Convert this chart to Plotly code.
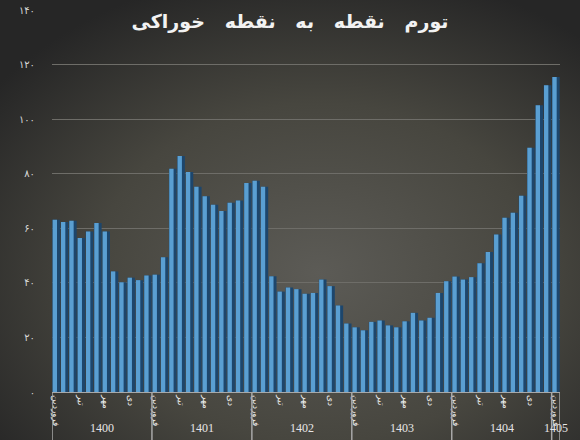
import base64

import plotly.graph_objects as go

# point-to-point food inflation (%), monthly, Farvardin 1400 .. Farvardin 1405
years = ["1400", "1401", "1402", "1403", "1404", "1405"]
months_per_year = [12, 12, 12, 12, 12, 1]
month_names = ["فروردین", "", "", "تیر", "", "", "مهر", "", "", "دی", "", ""]

values = [
    63.1, 62.3, 62.8, 56.4, 58.8, 61.9, 58.8, 44.2, 40.2, 41.9, 41.0, 42.7,
    43.0, 49.4, 81.8, 86.5, 80.6, 75.2, 71.7, 68.6, 66.3, 69.4, 70.2, 76.6,
    77.4, 75.2, 42.4, 36.8, 38.3, 37.7, 36.0, 36.3, 41.2, 38.8, 31.7, 25.1,
    23.7, 22.6, 25.7, 26.2, 24.4, 23.7, 25.9, 29.0, 26.2, 27.2, 36.3, 40.6,
    42.3, 41.2, 42.1, 47.2, 51.3, 57.7, 63.9, 65.7, 71.9, 89.5, 105.1, 112.4,
    115.4,
]

y_ticks = [0, 20, 40, 60, 80, 100, 120, 140]
y_ticktext = ["۰", "۲۰", "۴۰", "۶۰", "۸۰", "۱۰۰", "۱۲۰", "۱۴۰"]

TITLE = "تورم   نقطه   به   نقطه   خوراکی"

W, H = 580, 440
M_L, M_R, M_T, M_B = 52, 20, 10, 48
AXIS_GREY = "#a8a8a8"

# one category per month, e.g. "1400/01"
months, tick_vals, tick_text = [], [], []
for year, n in zip(years, months_per_year):
    for i in range(n):
        key = f"{year}/{i + 1:02d}"
        months.append(key)
        if month_names[i]:
            tick_vals.append(key)
            tick_text.append(month_names[i])

fig = go.Figure()
# dark shaded body of each column
fig.add_trace(go.Bar(
    x=months, y=values,
    marker=dict(color="#1d466c", line=dict(width=0)),
    width=0.92, hoverinfo="skip",
))
# lighter face on the left part of the column
fig.add_trace(go.Bar(
    x=months, y=values,
    marker=dict(color="#5a9fd2", line=dict(width=0)),
    width=0.52, offset=-0.42,
))

# radial gradient backdrop, drawn as an inline svg image
pw, ph = W - M_L - M_R, H - M_T - M_B
svg = (
    f'<svg xmlns="http://www.w3.org/2000/svg" width="{W}" height="{H}">'
    '<defs><radialGradient id="g" cx="55%" cy="62%" r="70%">'
    '<stop offset="0" stop-color="#5c5b56"/>'
    '<stop offset="0.55" stop-color="#47463f"/>'
    '<stop offset="1" stop-color="#262626"/>'
    '</radialGradient></defs>'
    f'<rect width="{W}" height="{H}" fill="url(#g)"/></svg>'
)
src = "data:image/svg+xml;base64," + base64.b64encode(svg.encode()).decode()
fig.add_layout_image(
    source=src, xref="paper", yref="paper",
    x=-M_L / pw, y=1 + M_T / ph, sizex=W / pw, sizey=H / ph,
    xanchor="left", yanchor="top", sizing="stretch", layer="below",
)

# year group dividers and labels under the month ticks
bottom = -M_B / ph
start = 0
for year, n in zip(years, months_per_year):
    fig.add_shape(
        type="line", xref="x", yref="paper",
        x0=start - 0.5, x1=start - 0.5, y0=0, y1=bottom,
        line=dict(color=AXIS_GREY, width=1.5),
    )
    fig.add_annotation(
        x=start + (n - 1) / 2, y=-36 / ph, xref="x", yref="paper",
        text=year, showarrow=False, yanchor="middle",
        font=dict(family="Liberation Serif", size=12, color="#e6e6e6"),
    )
    start += n
fig.add_shape(
    type="line", xref="x", yref="paper",
    x0=start - 0.5, x1=start - 0.5, y0=0, y1=bottom,
    line=dict(color=AXIS_GREY, width=1.5),
)

fig.update_layout(
    width=W, height=H,
    margin=dict(l=M_L, r=M_R, t=M_T, b=M_B),
    paper_bgcolor="#3a3a38", plot_bgcolor="rgba(0,0,0,0)",
    barmode="overlay", showlegend=False,
    title=dict(
        text="<b>" + TITLE + "</b>", x=0.5, xanchor="center", xref="container",
        y=1 - 21 / H, yanchor="middle",
        font=dict(family="DejaVu Sans", size=19, color="#f2f2f2"),
    ),
)
fig.update_xaxes(
    type="category", categoryorder="array", categoryarray=months,
    range=[-0.5, len(months) - 0.5],
    tickmode="array", tickvals=tick_vals, ticktext=tick_text,
    tickangle=90, showgrid=False, zeroline=False,
    showline=True, linecolor=AXIS_GREY, linewidth=1,
    ticks="", tickfont=dict(family="Liberation Serif", size=9, color="#ececec"),
    automargin=False,
)
fig.update_yaxes(
    range=[0, 140], tickvals=y_ticks, ticktext=y_ticktext,
    showgrid=True, gridcolor="#6e6d68", gridwidth=1, zeroline=False,
    ticks="outside", ticklen=14, tickcolor="rgba(0,0,0,0)",
    tickfont=dict(family="DejaVu Sans", size=10, color="#d8d8d8"),
    automargin=False,
)

# drop the default page margin so the figure sits at the window corner
fig.write_html(
    "out.html",
    config={"displayModeBar": False},
    post_script="document.body.style.margin='0';"
                "document.body.style.overflow='hidden';",
)
